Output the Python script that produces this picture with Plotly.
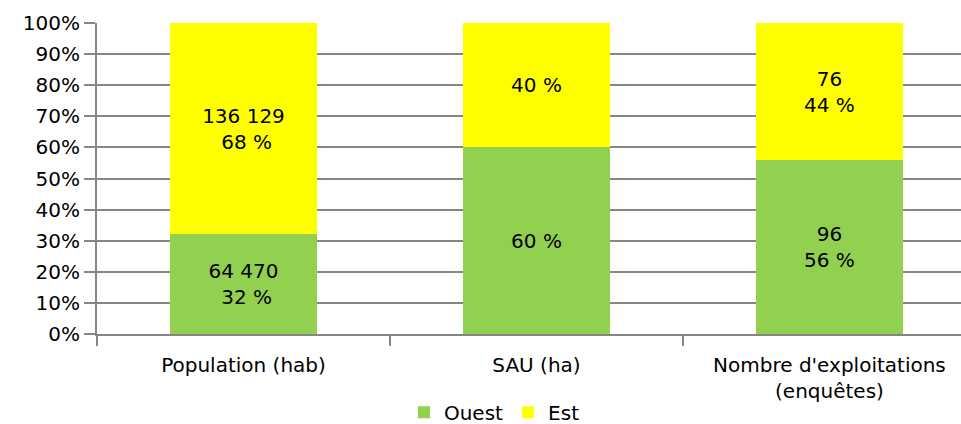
import plotly.graph_objects as go

categories = ["Population (hab)", "SAU (ha)", "Nombre d'exploitations<br>(enquêtes)"]
ouest_values = [64470, 60, 96]
est_values = [136129, 40, 76]
ouest_labels = ["64 470<br> 32 %", "60 %", "96<br>56 %"]
est_labels = ["136 129<br> 68 %", "40 %", "76<br>44 %"]
y_ticks = [0, 10, 20, 30, 40, 50, 60, 70, 80, 90, 100]
y_tick_labels = [f"{v}%" for v in y_ticks]

FONT = "DejaVu Sans"
FS = 20
fig = go.Figure()
fig.add_trace(go.Bar(name="Ouest", x=categories, y=ouest_values, text=ouest_labels,
                     marker=dict(color="#92D050", line=dict(width=0)), width=0.5,
                     textposition="inside", insidetextanchor="middle", textangle=0,
                     textfont=dict(color="black", size=FS, family=FONT)))
fig.add_trace(go.Bar(name="Est", x=categories, y=est_values, text=est_labels,
                     marker=dict(color="#FFFF00", line=dict(width=0)), width=0.5,
                     textposition="inside", insidetextanchor="middle", textangle=0,
                     textfont=dict(color="black", size=FS, family=FONT)))

fig.update_layout(
    barmode="stack", barnorm="percent",
    width=961, height=424,
    margin=dict(l=97, r=0, t=23, b=90, autoexpand=False),
    plot_bgcolor="white", paper_bgcolor="white",
    font=dict(family=FONT, size=FS, color="black"),
    uniformtext=dict(minsize=10, mode="show"),
    legend=dict(orientation="h", x=0.46, xanchor="center", yref="container",
                y=0.028, yanchor="middle", font=dict(size=FS), itemwidth=30,
                traceorder="normal"),
    showlegend=True,
)
fig.update_xaxes(range=[-0.5, 2.449], showgrid=False, showline=True, linecolor="#868686",
                 linewidth=2, ticks="outside", tickson="boundaries", ticklen=10,
                 tickcolor="#868686", tickwidth=2, tickfont=dict(size=FS),
                 ticklabelstandoff=12)
fig.update_yaxes(range=[0, 100], tickvals=y_ticks, ticktext=y_tick_labels, showgrid=True,
                 gridcolor="#868686", gridwidth=2, showline=True, linecolor="#868686",
                 linewidth=2, ticks="outside", ticklen=11, tickcolor="#868686", tickwidth=2,
                 tickfont=dict(size=FS), zeroline=False)

fig.write_html("out.html")
